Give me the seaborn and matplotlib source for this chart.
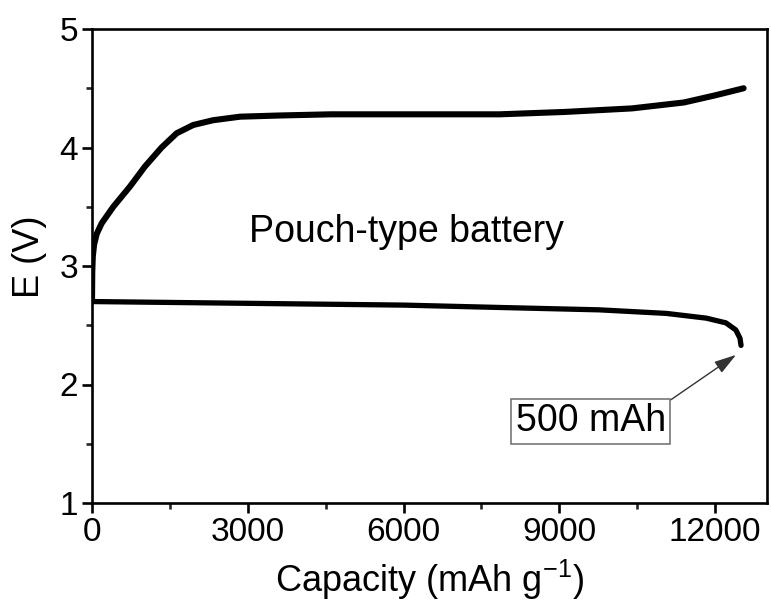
import matplotlib
matplotlib.use("Agg")
import matplotlib.pyplot as plt
from matplotlib.ticker import MultipleLocator
import seaborn as sns
import pandas as pd

# Galvanostatic charge / discharge profile of the pouch cell
charge_capacity = [0, 5, 15, 40, 90, 186, 410, 730, 1020, 1340, 1630, 1950, 2330, 2850,
                   3600, 4600, 6500, 7850, 9100, 10400, 11400, 12000, 12550]
charge_voltage = [2.70, 2.95, 3.08, 3.18, 3.27, 3.36, 3.50, 3.67, 3.84, 4.00, 4.12, 4.19,
                  4.23, 4.26, 4.27, 4.28, 4.28, 4.28, 4.30, 4.33, 4.38, 4.44, 4.50]

discharge_capacity = [0, 3000, 6000, 7850, 9770, 11060, 11830, 12210, 12400, 12480, 12500]
discharge_voltage = [2.70, 2.685, 2.67, 2.65, 2.63, 2.60, 2.56, 2.52, 2.46, 2.39, 2.33]

x_ticks = [0, 3000, 6000, 9000, 12000]
y_ticks = [1, 2, 3, 4, 5]

charge = pd.DataFrame({"capacity": charge_capacity, "voltage": charge_voltage})
discharge = pd.DataFrame({"capacity": discharge_capacity, "voltage": discharge_voltage})

sns.set_style("ticks")
plt.rcParams["font.family"] = ["Liberation Sans", "DejaVu Sans"]
plt.rcParams["mathtext.fontset"] = "custom"
plt.rcParams["mathtext.rm"] = "Liberation Sans"
plt.rcParams["mathtext.it"] = "Liberation Sans"
plt.rcParams["text.color"] = "black"
plt.rcParams["axes.labelcolor"] = "black"
plt.rcParams["lines.solid_capstyle"] = "round"
plt.rcParams["lines.solid_joinstyle"] = "round"

fig = plt.figure(figsize=(7.71, 6.10), dpi=100)
ax = fig.add_axes([92 / 771, 1 - 503 / 610, 675 / 771, 474 / 610])

sns.lineplot(data=charge, x="capacity", y="voltage", ax=ax, color="black",
             linewidth=4.4, estimator=None, sort=False)
sns.lineplot(data=discharge, x="capacity", y="voltage", ax=ax, color="black",
             linewidth=3.8, estimator=None, sort=False)

ax.set_xlim(0, 13000)
ax.set_ylim(1, 5)
ax.set_xticks(x_ticks)
ax.set_yticks(y_ticks)
ax.xaxis.set_minor_locator(MultipleLocator(1500))
ax.yaxis.set_minor_locator(MultipleLocator(0.5))

for side in ax.spines.values():
    side.set_linewidth(1.9)
    side.set_color("black")
ax.tick_params(which="major", direction="out", length=7, width=1.9,
               labelsize=24, pad=3, colors="black")
ax.tick_params(which="minor", direction="out", length=4.5, width=1.9)

ax.set_xlabel("Capacity (mAh g$^{\\mathregular{-1}}$)", fontsize=26)
ax.set_ylabel("E (V)", fontsize=26)
ax.xaxis.set_label_coords(0.5, -0.115)
ax.yaxis.set_label_coords(-0.066, 0.52)

ax.text(6058, 3.20, "Pouch-type battery", fontsize=27, ha="center", va="baseline")

ax.annotate("500 mAh", xy=(12404, 2.25), xytext=(9606, 1.69),
            fontsize=27, ha="center", va="center",
            bbox=dict(boxstyle="square,pad=0.12", fc="white", ec="#777777", lw=1.2),
            arrowprops=dict(arrowstyle="-|>,head_length=0.5,head_width=0.15",
                            color="#333333", lw=1.0, relpos=(1, 1),
                            shrinkA=0, shrinkB=0))

fig.savefig("out.png", dpi=100)
